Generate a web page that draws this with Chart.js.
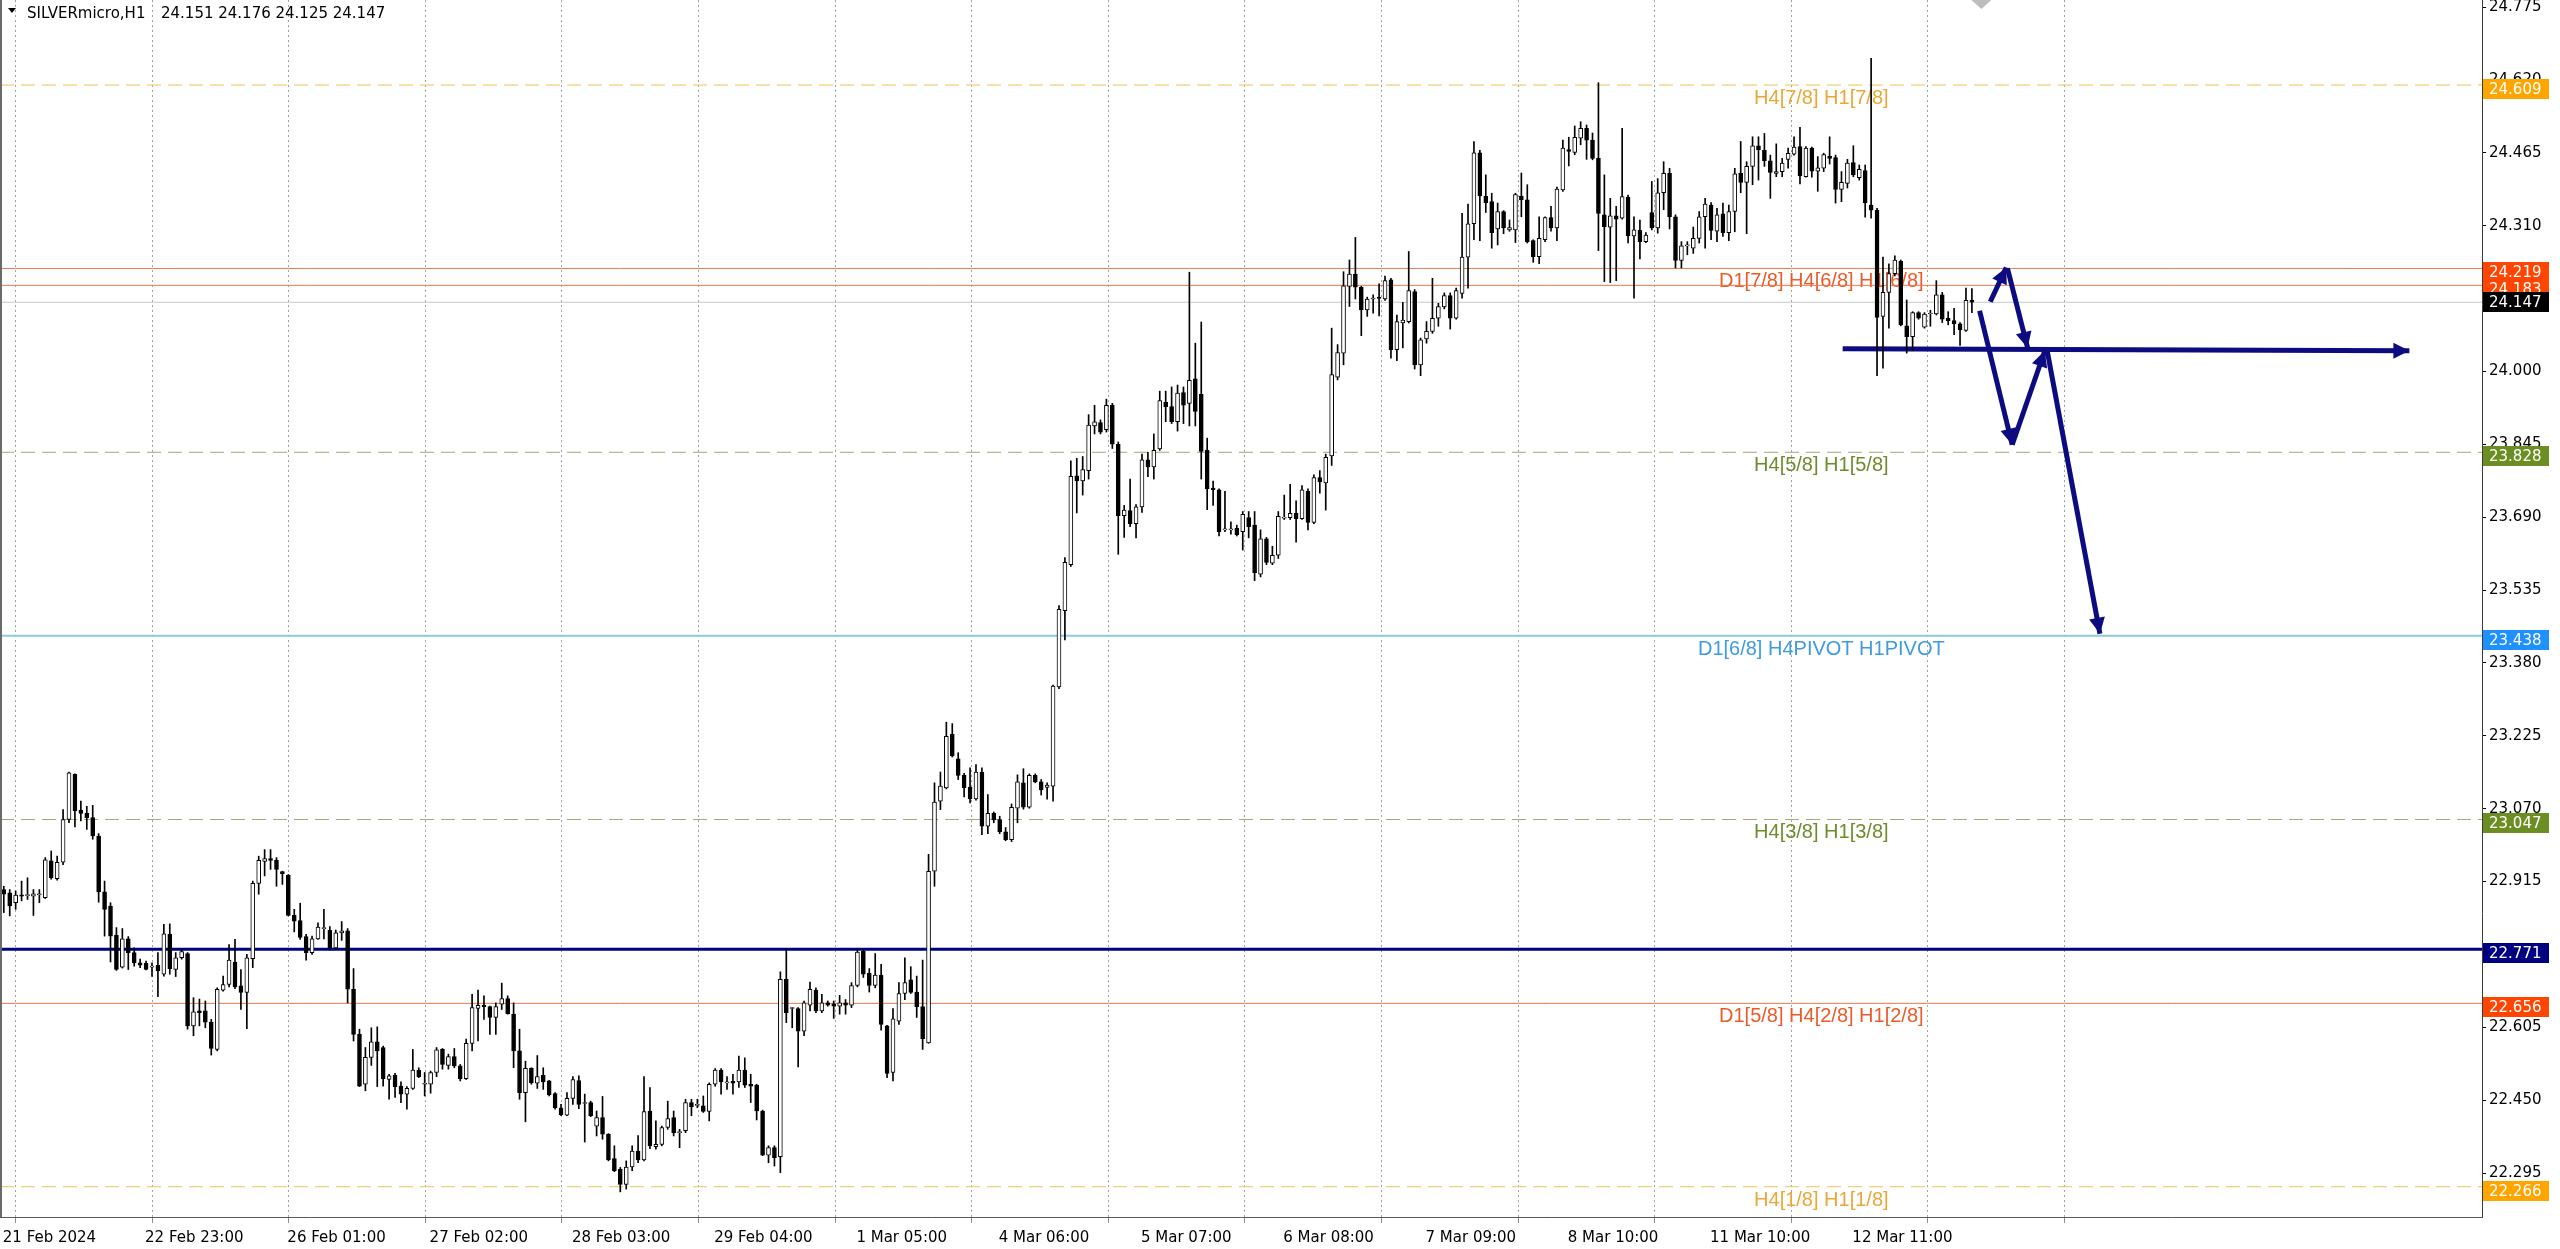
<!DOCTYPE html>
<html>
<head>
<meta charset="utf-8">
<script src="https://cdn.jsdelivr.net/npm/chart.js@4.4.0/dist/chart.umd.min.js"></script>
<style>
  html, body { margin: 0; padding: 0; background: #fff; overflow: hidden; }
  #wrap { width: 2560px; height: 1249px; }
</style>
</head>
<body>
<div id="wrap"><canvas id="chart" width="2560" height="1249"></canvas></div>
<script>
// SILVERmicro H1, 21 Feb - 12 Mar 2024
const opens = [
  22.898, 22.891, 22.870, 22.887, 22.885, 22.884, 22.887, 22.881, 22.959, 22.921,
  22.956, 23.047, 23.143, 23.067, 23.060, 23.051, 23.012, 22.893, 22.863, 22.801,
  22.733, 22.793, 22.764, 22.742, 22.741, 22.733, 22.737, 22.718, 22.803, 22.728,
  22.753, 22.762, 22.608, 22.640, 22.640, 22.616, 22.558, 22.684, 22.696, 22.744,
  22.693, 22.679, 22.751, 22.911, 22.958, 22.964, 22.960, 22.936, 22.928, 22.843,
  22.832, 22.798, 22.764, 22.793, 22.815, 22.812, 22.774, 22.806, 22.810, 22.686,
  22.590, 22.484, 22.541, 22.574, 22.562, 22.494, 22.503, 22.480, 22.463, 22.475,
  22.514, 22.484, 22.484, 22.509, 22.558, 22.524, 22.543, 22.523, 22.496, 22.571,
  22.645, 22.652, 22.649, 22.626, 22.654, 22.666, 22.633, 22.555, 22.466, 22.518,
  22.486, 22.503, 22.491, 22.464, 22.434, 22.418, 22.454, 22.492, 22.443, 22.445,
  22.395, 22.413, 22.378, 22.326, 22.303, 22.271, 22.308, 22.342, 22.323, 22.427,
  22.351, 22.356, 22.392, 22.413, 22.381, 22.385, 22.445, 22.439, 22.438, 22.426,
  22.484, 22.514, 22.487, 22.490, 22.489, 22.514, 22.484, 22.482, 22.427, 22.333,
  22.349, 22.330, 22.707, 22.645, 22.645, 22.597, 22.652, 22.684, 22.640, 22.657,
  22.655, 22.650, 22.657, 22.652, 22.694, 22.767, 22.720, 22.694, 22.716, 22.608,
  22.509, 22.618, 22.677, 22.706, 22.680, 22.649, 22.572, 22.937, 23.086, 23.114,
  23.228, 23.176, 23.141, 23.116, 23.091, 23.148, 23.033, 23.060, 23.047, 23.021,
  23.004, 23.071, 23.125, 23.073, 23.141, 23.127, 23.115, 23.118, 23.329, 23.491,
  23.589, 23.778, 23.767, 23.789, 23.884, 23.891, 23.876, 23.928, 23.845, 23.693,
  23.704, 23.676, 23.712, 23.812, 23.797, 23.835, 23.934, 23.925, 23.893, 23.955,
  23.932, 23.984, 23.951, 23.832, 23.752, 23.748, 23.663, 23.663, 23.666, 23.659,
  23.689, 23.673, 23.569, 23.644, 23.592, 23.609, 23.688, 23.689, 23.698, 23.687,
  23.745, 23.679, 23.774, 23.763, 23.820, 23.988, 24.039, 24.181, 24.207, 24.179,
  24.131, 24.154, 24.158, 24.154, 24.195, 24.046, 24.103, 24.106, 24.170, 24.014,
  24.069, 24.085, 24.113, 24.137, 24.161, 24.113, 24.166, 24.243, 24.314, 24.465,
  24.373, 24.361, 24.303, 24.340, 24.301, 24.301, 24.373, 24.365, 24.278, 24.244,
  24.280, 24.327, 24.305, 24.386, 24.472, 24.466, 24.496, 24.517, 24.492, 24.453,
  24.333, 24.307, 24.331, 24.326, 24.371, 24.288, 24.300, 24.276, 24.338, 24.305,
  24.380, 24.421, 24.329, 24.236, 24.267, 24.262, 24.283, 24.329, 24.354, 24.298,
  24.335, 24.295, 24.340, 24.421, 24.402, 24.436, 24.480, 24.470, 24.448, 24.421,
  24.425, 24.451, 24.462, 24.478, 24.414, 24.475, 24.426, 24.432, 24.458, 24.455,
  24.387, 24.400, 24.444, 24.412, 24.427, 24.354, 24.343, 24.117, 24.168, 24.208,
  24.234, 24.097, 24.074, 24.125, 24.094, 24.122, 24.122, 24.163, 24.113, 24.108,
  24.101, 24.087, 24.151
];
const highs = [
  22.905, 22.898, 22.895, 22.916, 22.923, 22.898, 22.898, 22.966, 22.980, 22.969,
  23.068, 23.148, 23.144, 23.086, 23.075, 23.077, 23.017, 22.916, 22.870, 22.817,
  22.815, 22.798, 22.774, 22.750, 22.746, 22.742, 22.764, 22.824, 22.825, 22.764,
  22.771, 22.764, 22.668, 22.665, 22.661, 22.622, 22.689, 22.714, 22.781, 22.792,
  22.728, 22.760, 22.916, 22.969, 22.983, 22.983, 22.966, 22.937, 22.930, 22.856,
  22.869, 22.803, 22.799, 22.827, 22.856, 22.819, 22.812, 22.830, 22.815, 22.730,
  22.601, 22.562, 22.604, 22.606, 22.565, 22.505, 22.507, 22.489, 22.479, 22.558,
  22.519, 22.509, 22.512, 22.562, 22.560, 22.548, 22.560, 22.526, 22.580, 22.675,
  22.684, 22.672, 22.650, 22.657, 22.699, 22.672, 22.657, 22.601, 22.533, 22.519,
  22.545, 22.519, 22.492, 22.466, 22.441, 22.466, 22.500, 22.502, 22.463, 22.448,
  22.427, 22.458, 22.379, 22.353, 22.307, 22.321, 22.353, 22.375, 22.500, 22.477,
  22.406, 22.395, 22.448, 22.427, 22.388, 22.452, 22.452, 22.452, 22.459, 22.487,
  22.517, 22.517, 22.500, 22.505, 22.544, 22.540, 22.505, 22.484, 22.429, 22.353,
  22.353, 22.723, 22.771, 22.647, 22.647, 22.661, 22.701, 22.689, 22.675, 22.661,
  22.661, 22.673, 22.664, 22.700, 22.772, 22.771, 22.730, 22.762, 22.739, 22.609,
  22.645, 22.700, 22.753, 22.734, 22.714, 22.748, 22.973, 23.125, 23.148, 23.254,
  23.251, 23.189, 23.145, 23.157, 23.164, 23.157, 23.100, 23.063, 23.054, 23.030,
  23.080, 23.142, 23.155, 23.144, 23.144, 23.132, 23.125, 23.333, 23.502, 23.604,
  23.810, 23.815, 23.819, 23.908, 23.928, 23.897, 23.941, 23.932, 23.850, 23.715,
  23.771, 23.717, 23.824, 23.828, 23.867, 23.958, 23.958, 23.967, 23.971, 23.967,
  24.211, 24.060, 24.105, 23.858, 23.767, 23.750, 23.745, 23.680, 23.673, 23.702,
  23.702, 23.702, 23.663, 23.647, 23.628, 23.702, 23.737, 23.760, 23.725, 23.757,
  23.750, 23.780, 23.789, 23.824, 24.092, 24.057, 24.212, 24.237, 24.285, 24.181,
  24.158, 24.163, 24.186, 24.203, 24.198, 24.120, 24.147, 24.255, 24.174, 24.071,
  24.106, 24.198, 24.145, 24.167, 24.167, 24.177, 24.336, 24.356, 24.489, 24.470,
  24.418, 24.379, 24.358, 24.342, 24.322, 24.379, 24.422, 24.397, 24.280, 24.329,
  24.329, 24.351, 24.392, 24.492, 24.498, 24.522, 24.531, 24.524, 24.507, 24.614,
  24.418, 24.368, 24.351, 24.517, 24.375, 24.329, 24.322, 24.295, 24.404, 24.410,
  24.446, 24.432, 24.333, 24.276, 24.276, 24.307, 24.340, 24.368, 24.359, 24.347,
  24.358, 24.354, 24.432, 24.489, 24.446, 24.499, 24.499, 24.506, 24.460, 24.484,
  24.453, 24.475, 24.499, 24.519, 24.478, 24.477, 24.457, 24.464, 24.499, 24.460,
  24.425, 24.451, 24.480, 24.439, 24.439, 24.666, 24.347, 24.243, 24.229, 24.246,
  24.237, 24.152, 24.127, 24.127, 24.125, 24.130, 24.193, 24.168, 24.127, 24.134,
  24.104, 24.177, 24.176
];
const lows = [
  22.849, 22.842, 22.856, 22.874, 22.877, 22.843, 22.870, 22.879, 22.920, 22.918,
  22.951, 23.040, 23.031, 23.044, 23.026, 23.005, 22.871, 22.799, 22.744, 22.726,
  22.731, 22.728, 22.735, 22.732, 22.727, 22.713, 22.670, 22.714, 22.718, 22.713,
  22.750, 22.601, 22.587, 22.608, 22.604, 22.546, 22.555, 22.682, 22.691, 22.687,
  22.643, 22.602, 22.732, 22.888, 22.927, 22.941, 22.905, 22.909, 22.842, 22.808,
  22.792, 22.748, 22.760, 22.792, 22.793, 22.769, 22.770, 22.790, 22.657, 22.576,
  22.479, 22.470, 22.524, 22.479, 22.480, 22.452, 22.456, 22.445, 22.431, 22.473,
  22.498, 22.459, 22.465, 22.500, 22.516, 22.516, 22.519, 22.491, 22.494, 22.555,
  22.576, 22.622, 22.590, 22.590, 22.643, 22.633, 22.519, 22.452, 22.404, 22.484,
  22.475, 22.473, 22.459, 22.431, 22.417, 22.417, 22.441, 22.432, 22.361, 22.415,
  22.374, 22.367, 22.321, 22.298, 22.255, 22.261, 22.300, 22.317, 22.321, 22.347,
  22.346, 22.353, 22.388, 22.374, 22.349, 22.381, 22.417, 22.434, 22.424, 22.406,
  22.480, 22.463, 22.473, 22.463, 22.477, 22.477, 22.445, 22.408, 22.332, 22.317,
  22.310, 22.296, 22.615, 22.604, 22.521, 22.587, 22.640, 22.636, 22.636, 22.650,
  22.624, 22.633, 22.633, 22.647, 22.691, 22.711, 22.680, 22.689, 22.599, 22.498,
  22.491, 22.611, 22.664, 22.677, 22.626, 22.558, 22.571, 22.905, 23.068, 23.112,
  23.180, 23.132, 23.095, 23.082, 23.088, 23.015, 23.017, 23.040, 23.017, 23.002,
  23.000, 23.040, 23.069, 23.071, 23.125, 23.099, 23.090, 23.086, 23.325, 23.429,
  23.585, 23.699, 23.737, 23.771, 23.867, 23.867, 23.871, 23.836, 23.611, 23.647,
  23.670, 23.646, 23.700, 23.776, 23.771, 23.832, 23.893, 23.889, 23.873, 23.889,
  23.884, 23.884, 23.771, 23.706, 23.715, 23.650, 23.659, 23.654, 23.650, 23.620,
  23.646, 23.555, 23.563, 23.589, 23.589, 23.602, 23.685, 23.685, 23.637, 23.685,
  23.663, 23.676, 23.741, 23.705, 23.800, 23.982, 24.014, 24.138, 24.154, 24.076,
  24.117, 24.124, 24.118, 24.151, 24.028, 24.023, 24.050, 24.103, 24.005, 23.991,
  24.060, 24.081, 24.096, 24.133, 24.090, 24.111, 24.156, 24.177, 24.280, 24.278,
  24.338, 24.262, 24.269, 24.293, 24.298, 24.274, 24.329, 24.273, 24.232, 24.229,
  24.276, 24.298, 24.278, 24.383, 24.437, 24.461, 24.482, 24.451, 24.450, 24.257,
  24.191, 24.189, 24.193, 24.324, 24.273, 24.156, 24.239, 24.274, 24.301, 24.294,
  24.344, 24.303, 24.220, 24.220, 24.248, 24.251, 24.273, 24.262, 24.280, 24.276,
  24.287, 24.278, 24.297, 24.380, 24.293, 24.397, 24.407, 24.436, 24.368, 24.414,
  24.414, 24.432, 24.460, 24.399, 24.413, 24.413, 24.383, 24.425, 24.441, 24.358,
  24.361, 24.390, 24.414, 24.407, 24.328, 24.326, 23.991, 24.007, 24.092, 24.203,
  24.097, 24.039, 24.045, 24.111, 24.092, 24.096, 24.120, 24.104, 24.099, 24.078,
  24.055, 24.085, 24.125
];
const closes = [
  22.888, 22.863, 22.886, 22.884, 22.885, 22.889, 22.887, 22.961, 22.923, 22.956,
  23.047, 23.146, 23.065, 23.060, 23.051, 23.012, 22.893, 22.856, 22.799, 22.728,
  22.793, 22.764, 22.742, 22.737, 22.728, 22.733, 22.725, 22.804, 22.730, 22.753,
  22.766, 22.608, 22.638, 22.636, 22.616, 22.560, 22.686, 22.696, 22.748, 22.691,
  22.679, 22.753, 22.911, 22.960, 22.964, 22.960, 22.941, 22.932, 22.843, 22.831,
  22.796, 22.764, 22.793, 22.818, 22.815, 22.774, 22.806, 22.810, 22.686, 22.590,
  22.480, 22.541, 22.574, 22.555, 22.496, 22.502, 22.479, 22.463, 22.475, 22.514,
  22.500, 22.484, 22.509, 22.557, 22.526, 22.543, 22.523, 22.496, 22.571, 22.647,
  22.652, 22.649, 22.626, 22.649, 22.666, 22.634, 22.555, 22.466, 22.518, 22.487,
  22.500, 22.489, 22.461, 22.434, 22.419, 22.454, 22.494, 22.441, 22.443, 22.417,
  22.413, 22.378, 22.323, 22.300, 22.271, 22.308, 22.342, 22.323, 22.426, 22.353,
  22.356, 22.392, 22.411, 22.381, 22.381, 22.445, 22.436, 22.439, 22.426, 22.484,
  22.514, 22.489, 22.487, 22.486, 22.514, 22.482, 22.480, 22.427, 22.333, 22.349,
  22.328, 22.707, 22.636, 22.645, 22.597, 22.657, 22.686, 22.640, 22.657, 22.652,
  22.650, 22.657, 22.652, 22.694, 22.765, 22.718, 22.694, 22.716, 22.611, 22.507,
  22.623, 22.677, 22.700, 22.679, 22.649, 22.581, 22.937, 23.084, 23.118, 23.224,
  23.182, 23.141, 23.114, 23.091, 23.148, 23.033, 23.060, 23.046, 23.021, 23.004,
  23.073, 23.127, 23.073, 23.141, 23.127, 23.110, 23.120, 23.331, 23.494, 23.594,
  23.777, 23.767, 23.791, 23.886, 23.893, 23.871, 23.928, 23.845, 23.693, 23.705,
  23.676, 23.712, 23.812, 23.797, 23.832, 23.938, 23.925, 23.893, 23.954, 23.928,
  23.981, 23.915, 23.830, 23.750, 23.748, 23.659, 23.663, 23.663, 23.653, 23.696,
  23.670, 23.572, 23.644, 23.594, 23.609, 23.692, 23.688, 23.698, 23.687, 23.748,
  23.679, 23.774, 23.765, 23.817, 23.993, 24.040, 24.182, 24.207, 24.179, 24.131,
  24.154, 24.154, 24.155, 24.193, 24.046, 24.106, 24.109, 24.172, 24.014, 24.067,
  24.085, 24.113, 24.138, 24.161, 24.113, 24.172, 24.243, 24.314, 24.465, 24.373,
  24.359, 24.295, 24.340, 24.305, 24.306, 24.376, 24.365, 24.276, 24.244, 24.283,
  24.327, 24.305, 24.388, 24.475, 24.468, 24.498, 24.517, 24.492, 24.453, 24.336,
  24.308, 24.331, 24.324, 24.372, 24.288, 24.301, 24.276, 24.290, 24.305, 24.380,
  24.421, 24.329, 24.236, 24.267, 24.267, 24.283, 24.329, 24.356, 24.300, 24.333,
  24.295, 24.340, 24.420, 24.402, 24.436, 24.480, 24.471, 24.448, 24.423, 24.425,
  24.443, 24.464, 24.477, 24.416, 24.475, 24.426, 24.433, 24.461, 24.453, 24.387,
  24.402, 24.443, 24.418, 24.430, 24.359, 24.343, 24.115, 24.168, 24.208, 24.237,
  24.099, 24.074, 24.125, 24.113, 24.122, 24.122, 24.163, 24.111, 24.108, 24.101,
  24.089, 24.151, 24.147
];

// one date label every 24 bars
const dateLabels = ['21 Feb 2024', '22 Feb 23:00', '26 Feb 01:00', '27 Feb 02:00', '28 Feb 03:00',
  '29 Feb 04:00', '1 Mar 05:00', '4 Mar 06:00', '5 Mar 07:00', '6 Mar 08:00', '7 Mar 09:00',
  '8 Mar 10:00', '11 Mar 10:00', '12 Mar 11:00'];
const priceTicks = [24.775, 24.620, 24.465, 24.310, 24.155, 24.000, 23.845, 23.690, 23.535,
  23.380, 23.225, 23.070, 22.915, 22.760, 22.605, 22.450, 22.295];

// Murrey math levels drawn by the indicator
const levelValues = [24.609, 24.219, 24.183, 23.828, 23.438, 23.047, 22.771, 22.656, 22.266];
const levelNames = ['H4[7/8] H1[7/8]', 'D1[7/8] H4[6/8] H1[6/8]', '', 'H4[5/8] H1[5/8]',
  'D1[6/8] H4PIVOT H1PIVOT', 'H4[3/8] H1[3/8]', '', 'D1[5/8] H4[2/8] H1[2/8]', 'H4[1/8] H1[1/8]'];
const lastPrice = 24.147;
const titleText = 'SILVERmicro,H1';
const titleValues = '24.151 24.176 24.125 24.147';

// hand drawn arrows: [bar, price] start and tip
const arrowStarts = [[335.1, 24.148], [338.0, 24.219], [333.3, 24.129], [338.8, 23.844], [344.7, 24.044], [310.2, 24.048]];
const arrowEnds = [[337.8, 24.221], [341.4, 24.050], [338.8, 23.844], [344.3, 24.044], [353.6, 23.442], [405.8, 24.044]];

// ---- styles / layout ----
const levelStyles = [
  { line: '#EFC458', width: 1, dash: [14, 7], text: '#EBA735', box: '#FFA500' },
  { line: '#E9794B', width: 1, dash: [], text: '#EC5A2A', box: '#FF4500' },
  { line: '#E9794B', width: 1, dash: [], text: '#EC5A2A', box: '#FF4500' },
  { line: '#A6A67C', width: 1, dash: [14, 7], text: '#6E8B2E', box: '#6B8E23' },
  { line: '#8ACBDC', width: 2, dash: [], text: '#3D9BE0', box: '#1E90FF' },
  { line: '#A6A67C', width: 1, dash: [14, 7], text: '#6E8B2E', box: '#6B8E23' },
  { line: '#000080', width: 3, dash: [], text: '#000080', box: '#000080' },
  { line: '#E9794B', width: 1, dash: [], text: '#EC5A2A', box: '#FF4500' },
  { line: '#EFC458', width: 1, dash: [14, 7], text: '#EBA735', box: '#FFA500' }
];
const boxOrder = [0, 2, 1, 3, 4, 5, 6, 7, 8];
const xMin = -0.64, xMax = 418.05;
const yMin = 22.2016, yMax = 24.7899;
const labelAnchor = 306.6;
const shiftMarkIndex = 333.6;
const gridIndex = [];
for (let k = 0; k < 16; k++) gridIndex.push(2 + 23.04 * k);
const arrowColor = '#0C0C80';
const axisFont = '15px "DejaVu Sans", Verdana, sans-serif';

const idx = opens.map((_, i) => i);
const datasets = [];
levelValues.forEach((v, k) => {
  datasets.push({
    type: 'line', data: [{ x: xMin, y: v }, { x: xMax, y: v }],
    borderColor: levelStyles[k].line, borderWidth: levelStyles[k].width, borderDash: levelStyles[k].dash,
    pointRadius: 0, order: 6
  });
});
datasets.push({
  type: 'line', data: [{ x: xMin, y: lastPrice }, { x: xMax, y: lastPrice }],
  borderColor: '#C8C8C8', borderWidth: 1, pointRadius: 0, order: 6
});
arrowStarts.forEach((s, k) => {
  datasets.push({
    type: 'line', data: [{ x: s[0], y: s[1] }, { x: arrowEnds[k][0], y: arrowEnds[k][1] }],
    borderColor: arrowColor, borderWidth: 5, borderCapStyle: 'butt', pointRadius: 0, order: 4
  });
});
datasets.push({
  type: 'bar', data: idx.map(i => ({ x: i, y: [lows[i], highs[i]] })),
  backgroundColor: '#000', barThickness: 1, grouped: false, order: 2
});
datasets.push({
  type: 'bar', data: idx.map(i => ({ x: i, y: [opens[i], closes[i]] })),
  backgroundColor: idx.map(i => closes[i] >= opens[i] ? '#ffffff' : '#000000'),
  borderColor: '#000', borderWidth: 1, borderSkipped: false,
  barThickness: 4, minBarLength: 1, grouped: false, order: 1
});

const overlay = {
  id: 'overlay',
  beforeDatasetsDraw(chart) {
    const { ctx, scales: { x, y } } = chart;
    ctx.save();
    ctx.font = '20px "Liberation Sans", Arial, sans-serif';
    ctx.textAlign = 'center';
    ctx.textBaseline = 'alphabetic';
    levelValues.forEach((v, k) => {
      if (!levelNames[k]) return;
      ctx.fillStyle = levelStyles[k].text;
      ctx.fillText(levelNames[k], x.getPixelForValue(labelAnchor), y.getPixelForValue(v) + 19);
    });
    ctx.restore();
  },
  afterDatasetsDraw(chart) {
    const { ctx, scales: { x, y } } = chart;
    ctx.save();
    ctx.fillStyle = arrowColor;
    arrowStarts.forEach((s, k) => {
      const x0 = x.getPixelForValue(s[0]), y0 = y.getPixelForValue(s[1]);
      const x1 = x.getPixelForValue(arrowEnds[k][0]), y1 = y.getPixelForValue(arrowEnds[k][1]);
      const a = Math.atan2(y1 - y0, x1 - x0);
      const len = 16, half = 8;
      const bx = x1 - len * Math.cos(a), by = y1 - len * Math.sin(a);
      ctx.beginPath();
      ctx.moveTo(x1, y1);
      ctx.lineTo(bx + half * Math.sin(a), by - half * Math.cos(a));
      ctx.lineTo(bx - half * Math.sin(a), by + half * Math.cos(a));
      ctx.closePath();
      ctx.fill();
    });
    // chart shift marker at the top
    const mx = x.getPixelForValue(shiftMarkIndex);
    ctx.fillStyle = '#BDBDBD';
    ctx.beginPath();
    ctx.moveTo(mx - 10, 0); ctx.lineTo(mx + 10, 0); ctx.lineTo(mx, 9); ctx.closePath();
    ctx.fill();
    ctx.restore();
  },
  afterDraw(chart) {
    const { ctx, chartArea, scales: { x, y } } = chart;
    ctx.save();
    ctx.font = axisFont;
    ctx.textBaseline = 'middle';
    ctx.textAlign = 'left';
    // price tags on the right axis
    const tag = (v, fill, shift) => {
      const py = Math.round(y.getPixelForValue(v)) + shift;
      ctx.fillStyle = fill;
      ctx.fillRect(chartArea.right + 1, py - 10, 66, 20);
      ctx.fillStyle = '#fff';
      ctx.fillText(v.toFixed(3), chartArea.right + 7, py + 1);
    };
    boxOrder.forEach(k => tag(levelValues[k], levelStyles[k].box, 4));
    tag(lastPrice, '#000', 0);
    // date labels
    ctx.fillStyle = '#000';
    dateLabels.forEach((lab, k) => {
      ctx.fillText(lab, x.getPixelForValue(24 * k) - 1, chartArea.bottom + 21);
    });
    // title
    ctx.beginPath();
    ctx.moveTo(8, 8); ctx.lineTo(16, 8); ctx.lineTo(12, 13); ctx.closePath();
    ctx.fill();
    ctx.textBaseline = 'alphabetic';
    ctx.fillText(titleText, 27, 18);
    ctx.fillText(titleValues, 161, 18);
    // left window edge
    ctx.fillStyle = '#6a6a6a';
    ctx.fillRect(0, 0, 2, chartArea.bottom);
    ctx.restore();
  }
};

new Chart(document.getElementById('chart'), {
  type: 'bar',
  data: { datasets },
  options: {
    responsive: false,
    animation: false,
    devicePixelRatio: 1,
    layout: { padding: 0 },
    plugins: { legend: { display: false }, tooltip: { enabled: false } },
    scales: {
      x: {
        type: 'linear', min: xMin, max: xMax, offset: false,
        grid: { color: '#A2A2A2', lineWidth: 1, drawTicks: true, tickLength: 6, tickColor: '#8C8C8C', offset: false },
        border: { display: true, color: '#5A5A5A', width: 1, dash: [2, 3] },
        ticks: { display: false, autoSkip: false },
        afterBuildTicks: s => { s.ticks = gridIndex.map(v => ({ value: v })); },
        afterFit: s => { s.height = 32; s.paddingLeft = 0; s.paddingRight = 0; }
      },
      y: {
        type: 'linear', position: 'right', min: yMin, max: yMax,
        grid: { drawOnChartArea: false, drawTicks: true, tickLength: 4, tickColor: '#000' },
        border: { display: true, color: '#3C3C3C', width: 1 },
        ticks: {
          autoSkip: false, padding: 3, color: '#000',
          font: { family: '"DejaVu Sans", Verdana, sans-serif', size: 15 },
          callback: v => Number(v).toFixed(3)
        },
        afterBuildTicks: s => { s.ticks = priceTicks.map(v => ({ value: v })); },
        afterFit: s => { s.width = 78; s.paddingTop = 0; s.paddingBottom = 0; }
      }
    }
  },
  plugins: [overlay]
});
</script>
</body>
</html>
